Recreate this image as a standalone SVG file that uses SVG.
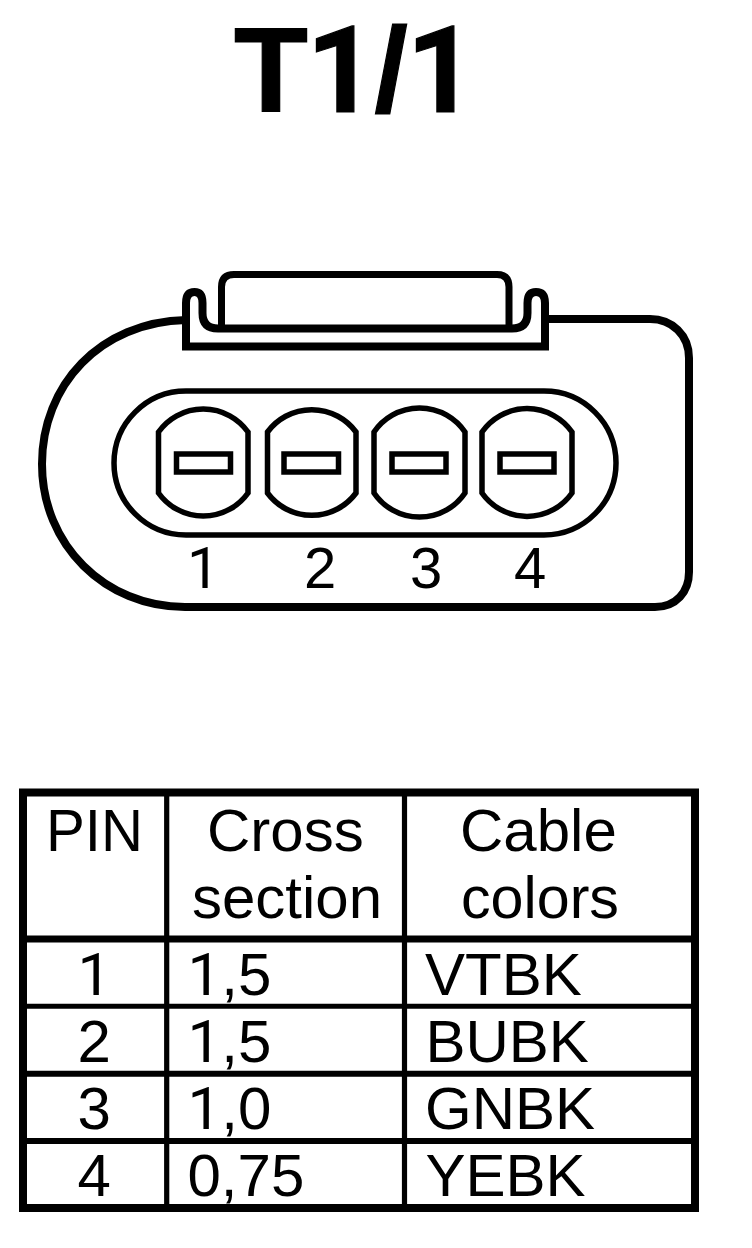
<svg xmlns="http://www.w3.org/2000/svg" width="752" height="1248" viewBox="0 0 752 1248">
<style>
text{font-family:"Liberation Sans",Arial,sans-serif;fill:#000}
.o{font-family:Roboto,"Liberation Sans",sans-serif}
.t{font-size:60px}
.n{font-size:58px}
.l{fill:none;stroke:#000;stroke-linejoin:miter}
.p{stroke-width:5.5}
.s{stroke-width:5.5}
</style>
<rect width="752" height="1248" fill="#fff"/>
<text x="234" y="111.7" font-size="121" font-weight="bold" letter-spacing="-1.5" stroke="#000" stroke-width="1.2">T<tspan class="o">1</tspan>/<tspan class="o">1</tspan></text>
<g id="connector-body">
<path class="l" stroke-width="8" d="M186 320C100 322 42 385 42 464C42 545 105 607 185 607H655C676 607 689 592 689 572V358C689 335 672 319 650 319H545"/>
<path class="l" stroke-width="8" d="M186 346.5V303Q186 292 194.5 292Q202.5 292 202.5 303V313Q202.5 328.5 218 328.5H512Q527.5 328.5 527.5 313V303Q527.5 292 536 292Q545 292 545 303V346.5Z"/>
<path class="l" stroke-width="7" d="M221.5 328V287Q221.5 274.5 234 274.5H497Q509 274.5 509 287V328"/>
<rect x="114" y="391" width="502" height="144" rx="72" class="l" stroke-width="5.5"/>
</g>
<g id="pin-1"><path class="l p" d="M158.5 432V493A55 55 0 0 0 248 493V432A55 55 0 0 0 158.5 432Z"/><rect x="176.5" y="454" width="54" height="18" class="l s"/><text x="187" y="588.3" class="n o">1</text></g>
<g id="pin-2"><path class="l p" d="M267.5 432V493A55 55 0 0 0 356 493V432A55 55 0 0 0 267.5 432Z"/><rect x="284" y="454" width="54.5" height="18" class="l s"/><text x="304" y="588.3" class="n">2</text></g>
<g id="pin-3"><path class="l p" d="M374 432V493A55 55 0 0 0 465 493V432A55 55 0 0 0 374 432Z"/><rect x="392" y="454" width="54" height="18" class="l s"/><text x="410" y="588.3" class="n">3</text></g>
<g id="pin-4"><path class="l p" d="M482 432V493A55 55 0 0 0 572 493V432A55 55 0 0 0 482 432Z"/><rect x="500" y="454" width="54" height="18" class="l s"/><text x="514" y="588.3" class="n">4</text></g>
<g id="table">
<rect x="23" y="792.5" width="672" height="415.5" class="l" stroke-width="8"/>
<path class="l" stroke-width="5.2" d="M166.7 792V1208M404.5 792V1208"/>
<path class="l" stroke-width="7" d="M23 939H695"/>
<path class="l" stroke-width="5" d="M23 1006.3H695"/>
<path class="l" stroke-width="6" d="M23 1073.7H695M23 1141H695"/>
<text x="46" y="851" class="t" textLength="97" lengthAdjust="spacingAndGlyphs">PIN</text>
<text x="207" y="851" class="t">Cross</text>
<text x="192" y="917.7" class="t">section</text>
<text x="460" y="851" class="t">Cable</text>
<text x="461" y="917.7" class="t" textLength="158" lengthAdjust="spacingAndGlyphs">colors</text>
<text x="77.5" y="995" class="t o">1</text><text x="187.5" y="995" class="t"><tspan class="o">1</tspan>,5</text><text x="425" y="995" class="t">VTBK</text>
<text x="77.5" y="1061.7" class="t">2</text><text x="187.5" y="1061.7" class="t"><tspan class="o">1</tspan>,5</text><text x="425.5" y="1061.7" class="t">BUBK</text>
<text x="77.5" y="1129" class="t">3</text><text x="187.5" y="1129" class="t"><tspan class="o">1</tspan>,0</text><text x="425" y="1129" class="t">GNBK</text>
<text x="77.5" y="1196" class="t">4</text><text x="187.5" y="1196" class="t">0,75</text><text x="425.5" y="1196" class="t">YEBK</text>
</g>
</svg>
